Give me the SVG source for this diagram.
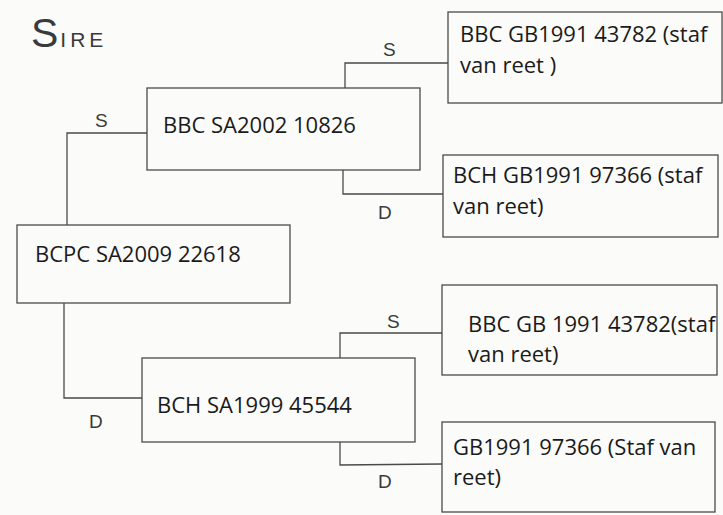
<svg xmlns="http://www.w3.org/2000/svg" width="723" height="515" viewBox="0 0 723 515">
  <style>
    .box { fill: none; stroke: #4a4a4a; stroke-width: 1.3; }
    .con { fill: none; stroke: #4a4a4a; stroke-width: 1.3; }
    .t { font-family: "Open Sans", "Liberation Sans", sans-serif; font-size: 22px; fill: #1a1a1a; }
    .lbl { font-family: "Liberation Sans", "DejaVu Sans", sans-serif; font-size: 19px; fill: #3a3a3a; }
    .title { font-family: "Liberation Sans", "DejaVu Sans", sans-serif; fill: #3a3a3a; }
  </style>
  <rect width="723" height="515" fill="#fbfbfa"/>

  <text class="title" x="31" y="47"><tspan font-size="41">S</tspan><tspan font-size="21" dx="2" letter-spacing="4">IRE</tspan></text>

  <g id="connectors">
    <!-- BBC SA2002 -> BBC GB1991 43782 -->
    <polyline class="con" points="345,88 345,63 448,63"/>
    <!-- BBC SA2002 -> BCH GB1991 97366 -->
    <polyline class="con" points="343,170 343,194 443,194"/>
    <!-- BCPC -> BBC SA2002 -->
    <polyline class="con" points="147,133 67,133 67,225"/>
    <!-- BCPC -> BCH SA1999 -->
    <polyline class="con" points="64,303 64,398 142,398"/>
    <!-- BCH SA1999 -> BBC GB 1991 43782 -->
    <polyline class="con" points="340,358 340,333 442,333"/>
    <!-- BCH SA1999 -> GB1991 97366 -->
    <polyline class="con" points="340,442 340,465 442,464"/>
    <text class="lbl" x="383" y="56">S</text>
    <text class="lbl" x="378" y="219">D</text>
    <text class="lbl" x="95" y="127">S</text>
    <text class="lbl" x="89" y="428">D</text>
    <text class="lbl" x="387" y="328">S</text>
    <text class="lbl" x="378" y="488">D</text>
  </g>

  <g id="bcpc">
    <rect class="box" x="17" y="225" width="273" height="78"/>
    <text class="t" x="35" y="262">BCPC SA2009 22618</text>
  </g>

  <g id="bbc-sa2002">
    <rect class="box" x="147" y="88" width="273" height="82"/>
    <text class="t" x="163" y="133">BBC SA2002 10826</text>
  </g>

  <g id="bch-sa1999">
    <rect class="box" x="142" y="358" width="273" height="84"/>
    <text class="t" x="157" y="413">BCH SA1999 45544</text>
  </g>

  <g id="bbc-gb1991-a">
    <rect class="box" x="448" y="12" width="274" height="91"/>
    <text class="t" x="460" y="42">BBC GB1991 43782 (staf</text>
    <text class="t" x="460" y="73">van reet )</text>
  </g>

  <g id="bch-gb1991">
    <rect class="box" x="443" y="155" width="275" height="82"/>
    <text class="t" x="453" y="183">BCH GB1991 97366 (staf</text>
    <text class="t" x="453" y="214">van reet)</text>
  </g>

  <g id="bbc-gb1991-b">
    <rect class="box" x="442" y="285" width="275" height="90"/>
    <text class="t" x="468" y="332">BBC GB 1991 43782(staf</text>
    <text class="t" x="468" y="362">van reet)</text>
  </g>

  <g id="gb1991-97366">
    <rect class="box" x="442" y="422" width="273" height="90"/>
    <text class="t" x="453" y="455">GB1991 97366 (Staf van</text>
    <text class="t" x="453" y="485">reet)</text>
  </g>
</svg>
